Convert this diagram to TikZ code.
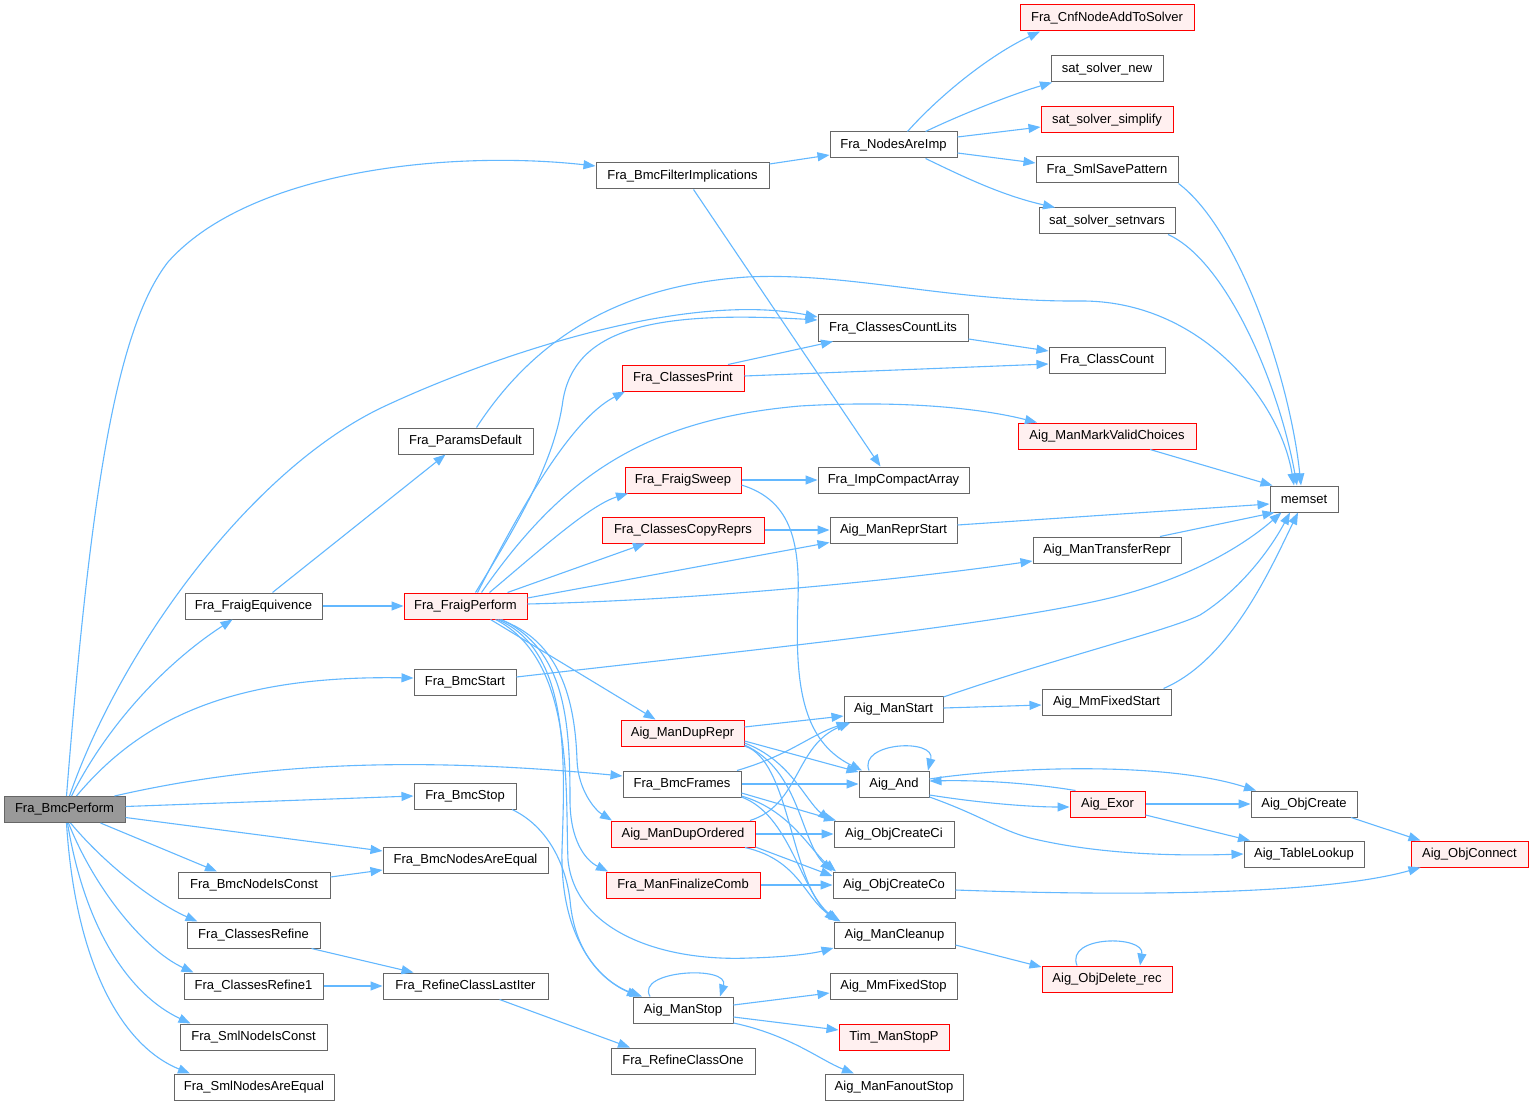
\documentclass[tikz,border=0pt]{standalone}
\usepackage{fontspec}
\setmainfont{Liberation Sans}
\usetikzlibrary{arrows.meta}
\definecolor{edgeblue}{HTML}{63B8FF}
\definecolor{nodegray}{HTML}{666666}
\definecolor{nodered}{HTML}{FF0000}
\definecolor{nodepink}{HTML}{FFF0F0}
\definecolor{rootfill}{HTML}{999999}
\tikzset{
  nb/.style={draw=nodegray, fill=white, line width=1pt, minimum height=26pt, inner sep=0pt, font=\fontsize{13}{15}\selectfont},
  nr/.style={nb, draw=nodered, fill=nodepink},
  nroot/.style={nb, fill=rootfill},
  ed/.style={draw=edgeblue, line width=1.1pt, -{Triangle[length=12pt,width=9pt]}},
}
\begin{document}
\begin{tikzpicture}[x=1pt,y=-1pt]
\useasboundingbox[fill=white] (0,0) rectangle (1534,1107);
% nodes
\node[nroot, minimum width=121pt] (root) at (64.5,809.5) {Fra\_BmcPerform};
\node[nb, minimum width=173pt] (filt) at (682.5,176) {Fra\_BmcFilterImplications};
\node[nb, minimum width=127pt] (imp) at (893.5,145) {Fra\_NodesAreImp};
\node[nr, minimum width=174pt] (cnf) at (1107,18) {Fra\_CnfNodeAddToSolver};
\node[nb, minimum width=112pt] (ssnew) at (1107,69) {sat\_solver\_new};
\node[nr, minimum width=132pt] (ssimp) at (1107,120) {sat\_solver\_simplify};
\node[nb, minimum width=142pt] (save) at (1107,170) {Fra\_SmlSavePattern};
\node[nb, minimum width=136pt] (ssvars) at (1107,221) {sat\_solver\_setnvars};
\node[nb, minimum width=150pt] (ccl) at (893,328) {Fra\_ClassesCountLits};
\node[nb, minimum width=116pt] (cc) at (1107,360) {Fra\_ClassCount};
\node[nr, minimum width=122pt] (cprint) at (683,378) {Fra\_ClassesPrint};
\node[nb, minimum width=135pt] (params) at (465.5,441) {Fra\_ParamsDefault};
\node[nr, minimum width=178pt] (mvc) at (1107,436) {Aig\_ManMarkValidChoices};
\node[nb, minimum width=68pt] (memset) at (1304,499) {memset};
\node[nr, minimum width=116pt] (sweep) at (683,480) {Fra\_FraigSweep};
\node[nb, minimum width=151pt] (ica) at (893.5,480) {Fra\_ImpCompactArray};
\node[nr, minimum width=162pt] (copy) at (683,530) {Fra\_ClassesCopyReprs};
\node[nb, minimum width=127pt] (reprs) at (893.5,530) {Aig\_ManReprStart};
\node[nb, minimum width=148pt] (trans) at (1107,550) {Aig\_ManTransferRepr};
\node[nb, minimum width=137pt] (equiv) at (253.5,606) {Fra\_FraigEquivence};
\node[nr, minimum width=123pt] (perf) at (465.5,606) {Fra\_FraigPerform};
\node[nb, minimum width=102pt] (bstart) at (465,682) {Fra\_BmcStart};
\node[nb, minimum width=99pt] (mstart) at (893.5,709) {Aig\_ManStart};
\node[nb, minimum width=129pt] (mmfs) at (1106.5,702) {Aig\_MmFixedStart};
\node[nr, minimum width=123pt] (duprepr) at (682.5,733) {Aig\_ManDupRepr};
\node[nb, minimum width=118pt] (frames) at (682,784) {Fra\_BmcFrames};
\node[nb, minimum width=70pt] (and) at (894,784) {Aig\_And};
\node[nr, minimum width=75pt] (exor) at (1107.5,804) {Aig\_Exor};
\node[nb, minimum width=106pt] (ocreate) at (1304,804) {Aig\_ObjCreate};
\node[nb, minimum width=102pt] (bstop) at (465,796) {Fra\_BmcStop};
\node[nr, minimum width=144pt] (duporder) at (683,834) {Aig\_ManDupOrdered};
\node[nb, minimum width=120pt] (oci) at (894,834) {Aig\_ObjCreateCi};
\node[nb, minimum width=120pt] (tl) at (1304,854) {Aig\_TableLookup};
\node[nr, minimum width=117pt] (oconn) at (1469.5,854) {Aig\_ObjConnect};
\node[nb, minimum width=165pt] (bnae) at (465.5,860) {Fra\_BmcNodesAreEqual};
\node[nb, minimum width=152pt] (bnic) at (254,885) {Fra\_BmcNodeIsConst};
\node[nr, minimum width=154pt] (fincomb) at (683,885) {Fra\_ManFinalizeComb};
\node[nb, minimum width=122pt] (oco) at (894,885) {Aig\_ObjCreateCo};
\node[nb, minimum width=133pt] (cref) at (253.5,935) {Fra\_ClassesRefine};
\node[nb, minimum width=121pt] (clean) at (894.5,935) {Aig\_ManCleanup};
\node[nr, minimum width=130pt] (odel) at (1107,979) {Aig\_ObjDelete\_rec};
\node[nb, minimum width=139pt] (cref1) at (253.5,986) {Fra\_ClassesRefine1};
\node[nb, minimum width=165pt] (rcli) at (465.5,986) {Fra\_RefineClassLastIter};
\node[nb, minimum width=127pt] (mmstop) at (893.5,986) {Aig\_MmFixedStop};
\node[nb, minimum width=100pt] (mstop) at (683,1010) {Aig\_ManStop};
\node[nr, minimum width=110pt] (tim) at (894,1037) {Tim\_ManStopP};
\node[nb, minimum width=147pt] (snic) at (253.5,1037) {Fra\_SmlNodeIsConst};
\node[nb, minimum width=144pt] (rco) at (683,1061) {Fra\_RefineClassOne};
\node[nb, minimum width=138pt] (fanout) at (894,1087) {Aig\_ManFanoutStop};
\node[nb, minimum width=160pt] (snae) at (254,1087) {Fra\_SmlNodesAreEqual};

% edges from root
\draw[ed] ([xshift=2pt]root.north) .. controls (90,500) and (115,330) .. (168,262) .. controls (250,170) and (450,150) .. ([yshift=10pt]filt.west);
\draw[ed] ([xshift=5pt]root.north) .. controls (120,650) and (250,470) .. (383,407) .. controls (483,360) and (680,290) .. ([yshift=11pt]ccl.west);
\draw[ed] ([xshift=7pt]root.north) .. controls (110,720) and (170,660) .. ([xshift=-21pt]equiv.south);
\draw[ed] ([xshift=12pt]root.north) .. controls (140,720) and (230,675) .. ([yshift=4pt]bstart.west);
\draw[ed] ([xshift=50pt]root.north) .. controls (250,765) and (400,755) .. ([yshift=8pt]frames.west);
\draw[ed] ([yshift=3pt]root.east) -- ([yshift=0pt]bstop.west);
\draw[ed] ([yshift=-8pt]root.east) -- ([yshift=9pt]bnae.west);
\draw[ed] ([xshift=36pt]root.south) -- ([xshift=-37pt]bnic.north);
\draw[ed] ([xshift=6pt]root.south) .. controls (110,870) and (160,905) .. ([xshift=-56pt]cref.north);
\draw[ed] ([xshift=4pt]root.south) .. controls (95,890) and (145,950) .. ([xshift=-60pt]cref1.north);
\draw[ed] ([xshift=3pt]root.south) .. controls (85,930) and (130,995) .. ([xshift=-63pt]snic.north);
\draw[ed] ([xshift=2pt]root.south) .. controls (75,960) and (120,1045) .. ([xshift=-64pt]snae.north);

% top region
\draw[ed] ([yshift=12pt]filt.east) -- ([yshift=-10pt]imp.west);
\draw[ed] ([xshift=11pt]filt.south) -- ([xshift=-13pt]ica.north);
\draw[ed] ([xshift=14pt]imp.north) .. controls (940,95) and (990,55) .. ([xshift=-67pt]cnf.south);
\draw[ed] ([xshift=32pt]imp.north) .. controls (960,115) and (1010,95) .. ([xshift=-55pt]ssnew.south);
\draw[ed] ([yshift=8pt]imp.east) -- ([yshift=-7pt]ssimp.west);
\draw[ed] ([yshift=-8pt]imp.east) -- ([yshift=7pt]save.west);
\draw[ed] ([xshift=32pt]imp.south) .. controls (960,175) and (1000,195) .. ([xshift=-52pt]ssvars.north);
\draw[ed] (save.south east) .. controls (1240,230) and (1290,380) .. ([xshift=-3pt]memset.north);
\draw[ed] ([xshift=61pt]ssvars.south) .. controls (1225,260) and (1278,380) .. ([xshift=-7pt]memset.north);
\draw[ed] ([xshift=11pt]params.north) .. controls (540,330) and (630,285) .. (747,277) .. controls (850,272) and (950,302) .. (1080,301) .. controls (1200,300) and (1280,400) .. ([xshift=-10pt]memset.north);
\draw[ed] ([yshift=-11pt]ccl.east) -- ([yshift=9pt]cc.west);
\draw[ed] ([xshift=45pt]cprint.north) -- ([xshift=-60pt]ccl.south);
\draw[ed] ([yshift=2pt]cprint.east) -- ([yshift=-4pt]cc.west);
\draw[ed] ([xshift=43pt]mvc.south) -- ([xshift=3pt]memset.north west);
\draw[ed] ([yshift=5pt]reprs.east) -- ([yshift=-5pt]memset.west);
\draw[ed] ([xshift=53pt]trans.north) -- ([xshift=5pt]memset.south west);
\draw[ed] ([yshift=5pt]bstart.east) .. controls (750,650) and (1000,625) .. (1114,597) .. controls (1200,575) and (1250,540) .. ([xshift=12pt]memset.south west);
\draw[ed] ([yshift=12pt]mstart.east) .. controls (1050,660) and (1170,630) .. (1200,615) .. controls (1240,590) and (1270,550) .. ([xshift=-14pt]memset.south);
\draw[ed] ([xshift=57pt]mmfs.north) .. controls (1230,660) and (1270,570) .. ([xshift=-6pt]memset.south);
\draw[ed] ([yshift=1pt]mstart.east) -- ([yshift=-3pt]mmfs.west);

% Fra_FraigEquivence / Fra_FraigPerform
\draw[ed] ([xshift=19pt]equiv.north) -- ([xshift=-20pt]params.south);
\draw[ed] (equiv.east) -- (perf.west);
\draw[ed] ([xshift=10pt]perf.north) .. controls (520,520) and (555,460) .. (563,400) .. controls (575,330) and (650,310) .. ([yshift=8pt]ccl.west);
\draw[ed] ([xshift=12pt]perf.north) .. controls (520,510) and (570,420) .. ([xshift=-58pt]cprint.south);
\draw[ed] ([xshift=16pt]perf.north) .. controls (560,480) and (640,420) .. (800,406) .. controls (900,400) and (980,408) .. ([xshift=-70pt]mvc.north);
\draw[ed] ([xshift=24pt]perf.north) .. controls (540,550) and (590,505) .. ([xshift=-55pt]sweep.south);
\draw[ed] ([xshift=42pt]perf.north) -- ([xshift=-38pt]copy.south);
\draw[ed] ([yshift=8pt]perf.east) -- ([yshift=1pt]reprs.south west);
\draw[ed] ([yshift=2pt]perf.east) .. controls (700,600) and (900,580) .. ([yshift=-11pt]trans.west);
\draw[ed] ([xshift=25pt]perf.south) -- ([xshift=-27pt]duprepr.north);
\draw[ed] ([xshift=34pt]perf.south) .. controls (560,640) and (575,700) .. (577,760) .. controls (578,790) and (595,810) .. ([xshift=-71pt]duporder.north);
\draw[ed] ([xshift=36pt]perf.south) .. controls (565,650) and (570,720) .. (570,800) .. controls (570,840) and (585,860) .. ([xshift=-75pt]fincomb.north);
\draw[ed] ([xshift=32pt]perf.south) .. controls (570,650) and (565,760) .. (562,850) .. controls (560,940) and (600,980) .. ([xshift=-44pt]mstop.north);
\draw[ed] ([xshift=30pt]perf.south) .. controls (575,660) and (565,790) .. (568,860) .. controls (575,930) and (660,962) .. (750,958) .. controls (790,957) and (815,953) .. ([yshift=-13pt]clean.west);
\draw[ed] ([xshift=47pt]bstop.south) .. controls (545,825) and (565,860) .. (570,900) .. controls (575,960) and (610,985) .. ([xshift=-41pt]mstop.north);

% Fra_FraigSweep, copy
\draw[ed] (sweep.east) -- (ica.west);
\draw[ed] ([yshift=-5pt]sweep.east) .. controls (790,500) and (800,540) .. (798,600) .. controls (795,680) and (800,740) .. ([xshift=-32pt]and.north);
\draw[ed] (copy.east) -- (reprs.west);

% dup repr / frames / dup ordered
\draw[ed] ([yshift=6pt]duprepr.east) -- ([yshift=-7pt]mstart.west);
\draw[ed] ([yshift=-8pt]duprepr.east) -- ([yshift=12pt]and.west);
\draw[ed] ([yshift=-10pt]duprepr.east) .. controls (790,760) and (805,800) .. ([xshift=-64pt]oci.north);
\draw[ed] ([yshift=-12pt]duprepr.east) .. controls (800,770) and (800,840) .. ([xshift=-62pt]oco.north);
\draw[ed] ([yshift=-13pt]duprepr.east) .. controls (790,760) and (790,880) .. ([xshift=-58pt]clean.north);
\draw[ed] ([xshift=55pt]frames.north) .. controls (790,755) and (810,735) .. ([xshift=-45pt]mstart.south);
\draw[ed] (frames.east) -- (and.west);
\draw[ed] ([yshift=-9pt]frames.east) -- ([xshift=-58pt]oci.north);
\draw[ed] ([yshift=-12pt]frames.east) .. controls (790,810) and (810,850) .. ([xshift=-58pt]oco.north);
\draw[ed] ([yshift=-13pt]frames.east) .. controls (790,815) and (800,890) .. ([xshift=-56pt]clean.north);
\draw[ed] ([xshift=67pt]duporder.north) .. controls (800,805) and (795,745) .. ([xshift=-43pt]mstart.south);
\draw[ed] (duporder.east) -- (oci.west);
\draw[ed] ([yshift=-13pt]duporder.east) -- ([yshift=9pt]oco.west);
\draw[ed] ([xshift=62pt]duporder.south) .. controls (800,860) and (805,900) .. ([xshift=-54pt]clean.north);
\draw[ed] (fincomb.east) -- (oco.west);

% Aig_And and friends
\draw[ed] ([xshift=-25pt]and.north) .. controls (858,742) and (936,738) .. ([xshift=34pt]and.north);
\draw[ed] ([yshift=-11pt]and.east) .. controls (980,803) and (1030,807) .. ([yshift=-3pt]exor.west);
\draw[ed] ([yshift=5pt]and.east) .. controls (1000,768) and (1160,760) .. ([xshift=-48pt]ocreate.north);
\draw[ed] ([xshift=-32pt]exor.north) .. controls (1030,783) and (980,780) .. ([yshift=3pt]and.east);
\draw[ed] ([yshift=-13pt]and.east) .. controls (980,815) and (1000,830) .. (1030,838) .. controls (1100,855) and (1180,856) .. (tl.west);
\draw[ed] (exor.east) -- (ocreate.west);
\draw[ed] ([yshift=-11pt]exor.east) -- ([xshift=-54pt]tl.north);
\draw[ed] ([xshift=47pt]ocreate.south) -- ([xshift=-49pt]oconn.north);
\draw[ed] ([yshift=-5pt]oco.east) .. controls (1150,897) and (1330,893) .. ([xshift=-49pt]oconn.south);

% cleanup / delete
\draw[ed] ([yshift=-10pt]clean.east) -- ([yshift=12pt]odel.west);
\draw[ed] ([xshift=-30pt]odel.north) .. controls (1065,935) and (1145,935) .. ([xshift=33pt]odel.north);

% Aig_ManStop
\draw[ed] ([xshift=-33pt]mstop.north) .. controls (635,970) and (730,965) .. ([xshift=37pt]mstop.north);
\draw[ed] ([yshift=5pt]mstop.east) -- ([yshift=-7pt]mmstop.west);
\draw[ed] ([yshift=-7pt]mstop.east) -- ([yshift=7pt]tim.west);
\draw[ed] ([yshift=-13pt]mstop.east) .. controls (790,1035) and (820,1060) .. ([xshift=-40pt]fanout.north);

% left bottom
\draw[ed] ([xshift=34pt]rcli.south) -- ([xshift=-53pt]rco.north);
\draw[ed] ([xshift=58pt]cref.south) -- ([xshift=-52pt]rcli.north);
\draw[ed] (cref1.east) -- (rcli.west);
\draw[ed] ([yshift=8pt]bnic.east) -- ([yshift=-10pt]bnae.west);
\end{tikzpicture}
\end{document}
